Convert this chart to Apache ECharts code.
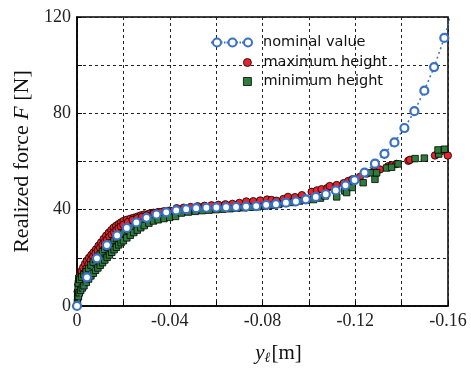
<!DOCTYPE html>
<html>
<head>
<meta charset="utf-8">
<script src="https://cdn.jsdelivr.net/npm/echarts@6/dist/echarts.min.js"></script>
<style>
html,body{margin:0;padding:0;background:#fff;}
#c{width:471px;height:370px;}
</style>
</head>
<body>
<div id="c"></div>
<script>
// ---- data ----
const seriesNames = ['nominal value', 'maximum height', 'minimum height'];

const xTickValues = [0, -0.04, -0.08, -0.12, -0.16];
const xTickLabels = ['0', '-0.04', '-0.08', '-0.12', '-0.16'];
const yTickValues = [0, 40, 80, 120];
const yTickLabels = ['0', '40', '80', '120'];

const nominalValue = [
  [0, 0], [-0.0043, 11.9], [-0.0086, 19.8], [-0.0129, 25.3], [-0.0173, 29.3],
  [-0.0215, 32.4], [-0.0256, 34.7], [-0.0300, 36.6], [-0.0343, 38.0], [-0.0385, 38.9],
  [-0.0428, 39.7], [-0.0471, 40.2], [-0.0514, 40.6], [-0.0558, 40.8], [-0.0601, 40.9],
  [-0.0643, 41.0], [-0.0686, 41.1], [-0.0729, 41.3], [-0.0773, 41.5], [-0.0816, 42.0],
  [-0.0858, 42.3], [-0.0901, 42.9], [-0.0944, 43.4], [-0.0987, 44.3], [-0.1030, 45.3],
  [-0.1073, 46.4], [-0.1116, 48.0], [-0.1158, 50.1], [-0.1197, 52.3], [-0.1240, 55.4],
  [-0.1285, 59.1], [-0.1326, 63.2], [-0.1369, 67.9], [-0.1412, 73.9], [-0.1455, 80.9],
  [-0.1498, 89.4], [-0.1540, 99.2], [-0.1584, 111.3], [-0.1627, 125.0]
];

const maximumHeight = [
  [-0.0003, 6], [-0.0006, 9], [-0.0010, 11.5], [-0.0015, 13], [-0.0020, 14.5],
  [-0.0027, 16], [-0.0035, 17.5], [-0.0043, 18.8], [-0.0052, 20], [-0.0062, 21.2],
  [-0.0072, 22.3], [-0.0082, 23.5], [-0.0093, 25], [-0.0104, 26.4], [-0.0115, 27.8],
  [-0.0126, 29.2], [-0.0137, 30.4], [-0.0148, 31.5], [-0.0158, 32.5], [-0.0169, 33.3],
  [-0.0180, 34], [-0.0190, 34.7], [-0.0201, 35.3], [-0.0215, 35.8], [-0.0230, 36.2],
  [-0.0244, 36.6], [-0.0260, 37.1], [-0.0275, 37.6], [-0.0290, 38], [-0.0310, 38.3],
  [-0.0330, 38.7], [-0.0350, 39], [-0.0374, 39.3], [-0.0400, 39.6],
  [-0.0005, 4], [-0.0012, 8], [-0.0020, 11], [-0.0030, 13.5], [-0.0040, 15.5],
  [-0.0050, 17.3], [-0.0060, 19], [-0.0070, 20.5], [-0.0080, 21.8], [-0.0090, 23],
  [-0.0100, 24.2], [-0.0110, 25.4], [-0.0120, 26.5], [-0.0130, 27.6], [-0.0140, 28.7],
  [-0.0150, 29.7], [-0.0160, 30.6], [-0.0170, 31.5], [-0.0180, 32.3], [-0.0190, 33],
  [-0.0200, 33.7], [-0.0220, 34.8], [-0.0240, 35.7], [-0.0260, 36.4], [-0.0280, 37],
  [-0.0300, 37.6], [-0.0330, 38.3], [-0.0360, 38.9], [-0.0390, 39.4],
  [-0.0430, 40.6], [-0.0460, 40.8], [-0.0490, 41.1], [-0.0520, 41.4], [-0.0550, 41.6],
  [-0.0580, 41.8], [-0.0610, 42.0], [-0.0640, 42.2], [-0.0670, 42.4], [-0.0700, 42.8],
  [-0.0730, 43.4], [-0.0760, 43.5], [-0.0790, 43.8], [-0.0820, 44.2], [-0.0839, 44.0],
  [-0.0860, 43.7], [-0.0890, 44.4], [-0.0910, 45.3], [-0.0940, 45.2], [-0.0970, 46.0],
  [-0.1012, 47.4], [-0.1035, 48.0], [-0.1055, 48.5], [-0.1080, 49.0], [-0.1090, 49.8],
  [-0.1120, 50.2], [-0.1150, 51.0], [-0.1170, 51.9], [-0.1188, 52.6], [-0.1220, 53.6],
  [-0.1250, 55.0], [-0.1280, 56.0], [-0.1306, 56.7], [-0.1342, 58.0], [-0.1357, 58.4],
  [-0.1378, 59.0], [-0.1429, 60.3], [-0.1436, 60.7], [-0.1544, 62.5], [-0.1575, 64.5],
  [-0.1599, 62.5]
];

const minimumHeight = [
  [-0.0002, 1.5], [-0.0003, 3.5], [-0.0004, 5.5], [-0.0005, 7.5], [-0.0006, 9.5],
  [-0.0008, 11.5], [-0.0012, 11], [-0.0020, 12], [-0.0030, 13], [-0.0040, 14.2],
  [-0.0050, 15.6], [-0.0060, 17], [-0.0070, 18.2], [-0.0080, 19.3], [-0.0090, 20.4],
  [-0.0100, 21.5], [-0.0110, 22.5], [-0.0120, 23.5], [-0.0130, 24.5], [-0.0140, 25.4],
  [-0.0150, 26.3], [-0.0160, 27.2], [-0.0170, 28], [-0.0180, 28.8], [-0.0190, 29.6],
  [-0.0200, 30.3], [-0.0220, 31.6], [-0.0240, 32.7], [-0.0260, 33.7], [-0.0280, 34.6],
  [-0.0300, 35.4], [-0.0330, 36.4], [-0.0360, 37.3], [-0.0390, 38],
  [-0.0006, 4], [-0.0010, 5.5], [-0.0016, 6.5], [-0.0023, 7.5], [-0.0030, 8.4],
  [-0.0040, 9.8], [-0.0050, 11.2], [-0.0060, 12.5], [-0.0070, 13.6], [-0.0080, 14.8],
  [-0.0090, 15.8], [-0.0100, 16.9], [-0.0110, 18], [-0.0120, 19.1], [-0.0130, 20.2],
  [-0.0140, 21.2], [-0.0150, 22.3], [-0.0160, 23.4], [-0.0170, 24.4], [-0.0180, 25.4],
  [-0.0190, 26.3], [-0.0200, 27.1], [-0.0215, 28.3], [-0.0230, 29.4], [-0.0245, 30.5],
  [-0.0260, 31.5], [-0.0275, 32.5], [-0.0290, 33.4], [-0.0310, 34.4], [-0.0330, 35.3],
  [-0.0350, 35.8], [-0.0375, 36.3], [-0.0400, 36.8], [-0.0425, 37.2],
  [-0.0450, 38.6], [-0.0480, 39.0], [-0.0510, 39.3], [-0.0540, 39.6], [-0.0570, 39.8],
  [-0.0600, 40.0], [-0.0630, 40.2], [-0.0660, 40.4], [-0.0690, 40.6], [-0.0720, 40.8],
  [-0.0750, 41.0], [-0.0780, 41.2], [-0.0810, 41.5], [-0.0840, 41.8], [-0.0870, 42.2],
  [-0.0900, 42.7], [-0.0930, 43.0], [-0.0960, 43.6], [-0.0990, 44.0], [-0.1020, 44.2],
  [-0.1050, 44.8], [-0.1070, 45.7], [-0.1120, 45.3], [-0.1155, 47.8], [-0.1163, 47.1],
  [-0.1187, 49.2], [-0.1234, 51.2], [-0.1270, 55.3], [-0.1285, 52.6], [-0.1292, 55.3],
  [-0.1335, 57.3], [-0.1357, 57.6], [-0.1385, 59.0], [-0.1458, 61.2], [-0.1498, 61.4],
  [-0.1560, 63.1], [-0.1557, 64.8], [-0.1585, 65.1]
];

// ---- styles ----
const BLUE = '#3a70c6';
const RED = '#e8232b';
const GREEN = '#2f7d3b';
const SERIF = '"Liberation Serif", "Times New Roman", serif';
const SANS = '"DejaVu Sans", Verdana, sans-serif';

function pickLabel(values, labels, v) {
  const i = values.findIndex(t => Math.abs(t - v) < 1e-9);
  return i >= 0 ? labels[i] : '';
}

const nominalIcon = 'path://M0,5L2,5M2,5A4,4 0 1,1 10,5A4,4 0 1,1 2,5M10,5L11.5,5M13,5L14.5,5M15.5,5L17.5,5M17.5,5A4,4 0 1,1 25.5,5A4,4 0 1,1 17.5,5M25.5,5L27,5M28.5,5L30,5M31,5L33,5M33,5A4,4 0 1,1 41,5A4,4 0 1,1 33,5';

const chart = echarts.init(document.getElementById('c'), null, {renderer: 'canvas'});
chart.setOption({
  animation: false,
  backgroundColor: '#fff',
  grid: {left: 77, right: 23, top: 17, bottom: 60, show: true, borderColor: '#000', borderWidth: 1.5, backgroundColor: 'transparent'},
  legend: [
    {
      data: [{name: seriesNames[0], icon: nominalIcon, itemStyle: {color: '#fff', borderColor: BLUE, borderWidth: 2}}],
      left: 210, top: 35, itemWidth: 41, itemHeight: 10, padding: 0,
      textStyle: {fontFamily: SANS, fontSize: 14.5, color: '#111', padding: [0, 0, 0, 6]}
    },
    {
      data: [{name: seriesNames[1], icon: 'circle', itemStyle: {color: RED, borderColor: '#000', borderWidth: 0.8}}],
      left: 243, top: 55, itemWidth: 8, itemHeight: 8, padding: 0,
      textStyle: {fontFamily: SANS, fontSize: 14.5, color: '#111', padding: [0, 0, 0, 7]}
    },
    {
      data: [{name: seriesNames[2], icon: 'rect', itemStyle: {color: GREEN, borderColor: '#000', borderWidth: 0.8}}],
      left: 243, top: 74, itemWidth: 8, itemHeight: 8, padding: 0,
      textStyle: {fontFamily: SANS, fontSize: 14.5, color: '#111', padding: [0, 0, 0, 7]}
    }
  ],
  xAxis: {
    type: 'value', min: -0.16, max: 0, interval: 0.02, inverse: true,
    name: '{i|y}{s|ℓ}[m]',
    nameLocation: 'middle', nameGap: 36,
    nameTextStyle: {
      fontFamily: SERIF, fontSize: 21, color: '#111', padding: [0, 0, 0, 32],
      rich: {
        i: {fontFamily: SERIF, fontStyle: 'italic', fontSize: 21, color: '#111'},
        s: {fontFamily: SERIF, fontStyle: 'italic', fontSize: 14, color: '#111', padding: [9, 1, 0, 0]}
      }
    },
    axisLine: {show: true, lineStyle: {color: '#000', width: 1.5}},
    axisTick: {show: true, inside: true, length: 5, lineStyle: {color: '#000'}},
    axisLabel: {
      fontFamily: SERIF, fontSize: 18, color: '#222', margin: 6,
      formatter: v => pickLabel(xTickValues, xTickLabels, v)
    },
    splitLine: {show: true, lineStyle: {color: '#222', type: [3, 3], width: 1}}
  },
  yAxis: {
    type: 'value', min: 0, max: 120, interval: 20,
    name: 'Realized force {i|F} [N]',
    nameLocation: 'middle', nameGap: 38,
    nameTextStyle: {
      fontFamily: SERIF, fontSize: 22, color: '#111',
      rich: {i: {fontFamily: SERIF, fontStyle: 'italic', fontSize: 22, color: '#111'}}
    },
    axisLine: {show: true, lineStyle: {color: '#000', width: 1.5}},
    axisTick: {show: true, inside: true, length: 5, lineStyle: {color: '#000'}},
    axisLabel: {
      fontFamily: SERIF, fontSize: 18, color: '#222', margin: 6,
      formatter: v => pickLabel(yTickValues, yTickLabels, v)
    },
    splitLine: {show: true, lineStyle: {color: '#222', type: [3, 3], width: 1}}
  },
  series: [
    {
      name: seriesNames[1], type: 'scatter', data: maximumHeight,
      symbol: 'circle', symbolSize: 7.5, z: 2,
      itemStyle: {color: RED, borderColor: '#000', borderWidth: 0.8, opacity: 1}
    },
    {
      name: seriesNames[2], type: 'scatter', data: minimumHeight,
      symbol: 'rect', symbolSize: 6.5, z: 3,
      itemStyle: {color: GREEN, borderColor: '#000', borderWidth: 0.8, opacity: 1}
    },
    {
      name: seriesNames[0], type: 'line', data: nominalValue, clip: true,
      symbol: 'circle', symbolSize: 8, showAllSymbol: true, z: 4,
      itemStyle: {color: '#fff', borderColor: BLUE, borderWidth: 2.2},
      lineStyle: {color: BLUE, width: 1.5, type: [2, 3]}
    }
  ]
});
</script>
</body>
</html>
